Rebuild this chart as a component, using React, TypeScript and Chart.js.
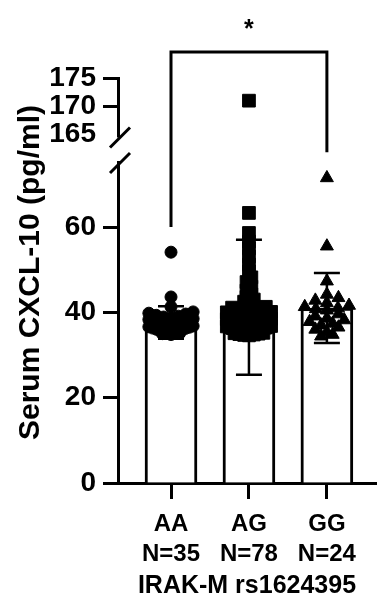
import React, { useEffect, useRef } from 'react';
import { Chart, registerables } from 'chart.js';

Chart.register(...registerables);

const FONT = "'Liberation Sans', Arial, Helvetica, sans-serif";

// ---- data ----
const categories = ['AA', 'AG', 'GG'];
const groupSizes = ['N=35', 'N=78', 'N=24'];
const xTitle = 'IRAK-M rs1624395';
const yTitle = 'Serum CXCL-10 (pg/ml)';
const lowerTicks = [0, 20, 40, 60];
const upperTicks = [165, 170, 175];
const upperTicksWithMark = [170, 175];
const lowerRange = [0, 75];
const upperRange = [160, 175];
const breakValue = 164.5;

const aaValues = [
  54.1, 43.6, 41.3, 40.1, 39.8, 39.6, 39.3, 39.1, 38.9, 38.7, 38.5, 38.3, 38.1, 37.9, 37.8, 37.6, 37.4, 37.3,
  37.1, 36.9, 36.8, 36.6, 36.5, 36.3, 36.2, 36.0, 35.9, 35.8, 35.6, 35.5, 35.4, 35.3, 35.1, 35.0, 34.8,
];
const agValues = [
  171.0, 63.3, 58.6, 56.6, 55.0, 53.1, 51.2, 49.6, 48.2, 47.1, 46.0, 45.1, 44.2, 43.6, 43.0, 42.5, 42.0,
  41.3, 41.1, 40.9, 40.8, 40.6, 40.5, 40.3, 40.2, 40.0, 39.9, 39.7, 39.6, 39.4, 39.3, 39.2, 39.0, 38.9, 38.8,
  38.6, 38.5, 38.4, 38.2, 38.1, 38.0, 37.9, 37.7, 37.6, 37.5, 37.4, 37.2, 37.1, 37.0, 36.9, 36.8, 36.6, 36.5,
  36.4, 36.3, 36.1, 36.0, 35.9, 35.8, 35.7, 35.6, 35.5, 35.4, 35.3, 35.2, 35.1, 35.0, 34.9, 34.8, 34.7, 34.6,
  39.5, 38.3, 37.3, 36.2, 40.1, 37.8, 36.7,
];
const ggValues = [
  71.5, 55.5, 47.3, 44.2, 43.4, 42.8, 42.2, 41.6, 41.3, 41.0, 40.8, 40.5, 39.6, 39.1, 38.6, 38.2, 37.8, 37.4,
  37.0, 36.5, 36.0, 35.4, 34.8, 34.4,
];
const means = [37.6, 41.2, 41.0];
const sds = [3.8, 15.8, 8.2];

const sigLabel = '*';
const bracketLevel = 179.6; // upper-segment units
const bracketLeftEnd = 60; // lower-segment units
const bracketRightEnd = 77.5; // lower-segment units
const starValue = 182.2; // upper-segment units

const groupValues = [aaValues, agValues, ggValues];
const pointStyles = ['circle', 'rect', 'triangle'];
const pointRadii = [6, 9, 7.5];
const swarmSteps = [9, 5, 12];

// ---- beeswarm layout computed from values ----
const Y_PX_PER_UNIT = 4.27;
const X_PX_PER_UNIT = 81;
function swarm(values: number[], center: number, step: number, maxHalf: number, rowH: number): number[] {
  const rows = new Map<number, number[]>();
  values.forEach((v, i) => {
    const r = Math.round((v * Y_PX_PER_UNIT) / rowH);
    if (!rows.has(r)) rows.set(r, []);
    rows.get(r)!.push(i);
  });
  const xs = values.map(() => center);
  rows.forEach((idxs) => {
    const n = idxs.length;
    if (n < 2) return;
    idxs.sort((a, b) => values[a] - values[b]);
    const sp = Math.min(step, (2 * maxHalf) / (n - 1));
    const slots = idxs.map((_, k) => (k - (n - 1) / 2) * sp);
    const order = slots.map((_, k) => k).sort((a, b) => Math.abs(slots[a]) - Math.abs(slots[b]) || a - b);
    idxs.forEach((id, k) => {
      xs[id] = center + slots[order[k]] / X_PX_PER_UNIT;
    });
  });
  return xs;
}

const annotationPlugin = {
  id: 'annotations',
  afterDatasetsDraw(chart: any) {
    const { ctx } = chart;
    const x = chart.scales.x;
    const y = chart.scales.y;
    ctx.save();
    ctx.strokeStyle = '#000';
    ctx.lineWidth = 2.5;
    means.forEach((m, i) => {
      const cx = x.getPixelForValue(i + 1);
      const top = y.getPixelForValue(m + sds[i]);
      const bot = y.getPixelForValue(m - sds[i]);
      ctx.beginPath();
      ctx.moveTo(cx, top);
      ctx.lineTo(cx, bot);
      ctx.moveTo(cx - 13, top);
      ctx.lineTo(cx + 13, top);
      ctx.moveTo(cx - 13, bot);
      ctx.lineTo(cx + 13, bot);
      ctx.stroke();
    });
    ctx.restore();
  },
  afterDraw(chart: any) {
    const { ctx } = chart;
    const x = chart.scales.x;
    const y = chart.scales.y;
    const yt = chart.scales.yTop;
    ctx.save();
    // axis break
    const ax = chart.chartArea.left;
    const yBreak = yt.getPixelForValue(breakValue);
    const yLow = y.getPixelForValue(lowerRange[1]);
    ctx.fillStyle = '#fff';
    ctx.fillRect(ax - 6, yBreak, 12, yLow - yBreak - 2);
    ctx.strokeStyle = '#000';
    ctx.lineWidth = 3;
    [yBreak, yLow].forEach((py) => {
      ctx.beginPath();
      ctx.moveTo(ax - 8, py + 10);
      ctx.lineTo(ax + 12, py - 10);
      ctx.stroke();
    });
    // significance bracket
    const x1 = x.getPixelForValue(1);
    const x3 = x.getPixelForValue(3);
    const yb = yt.getPixelForValue(bracketLevel);
    ctx.lineJoin = 'miter';
    ctx.beginPath();
    ctx.moveTo(x1, y.getPixelForValue(bracketLeftEnd));
    ctx.lineTo(x1, yb);
    ctx.lineTo(x3, yb);
    ctx.lineTo(x3, y.getPixelForValue(bracketRightEnd));
    ctx.stroke();
    ctx.fillStyle = '#000';
    ctx.font = `bold 25px ${FONT}`;
    ctx.textAlign = 'center';
    ctx.textBaseline = 'alphabetic';
    ctx.fillText(sigLabel, (x1 + x3) / 2, yt.getPixelForValue(starValue));
    // y-axis title (spans both axis segments)
    const midY = (yt.getPixelForValue(upperRange[1]) + y.getPixelForValue(lowerRange[0])) / 2 - 8;
    ctx.translate(31, midY);
    ctx.rotate(-Math.PI / 2);
    ctx.font = `bold 30px ${FONT}`;
    ctx.textBaseline = 'middle';
    ctx.fillText(yTitle, 0, 0);
    ctx.restore();
  },
};

export default function App() {
  const canvasRef = useRef<HTMLCanvasElement | null>(null);

  useEffect(() => {
    if (!canvasRef.current) return;

    const scatterSets: any[] = [];
    groupValues.forEach((vals, g) => {
      const xs = swarm(vals, g + 1, swarmSteps[g], 23, 7);
      const low = vals.map((v, i) => ({ x: xs[i], y: v })).filter((p) => p.y <= lowerRange[1]);
      const high = vals.map((v, i) => ({ x: xs[i], y: v })).filter((p) => p.y > lowerRange[1]);
      const common = {
        type: 'scatter',
        pointStyle: pointStyles[g],
        pointRadius: pointRadii[g],
        pointBackgroundColor: '#000',
        pointBorderColor: '#000',
        pointBorderWidth: 1,
        showLine: false,
        order: 1,
        xAxisID: 'x',
      };
      scatterSets.push({ ...common, data: low, yAxisID: 'y' });
      if (high.length) scatterSets.push({ ...common, data: high, yAxisID: 'yTop' });
    });

    const tickFontY = { family: FONT, size: 28, weight: 'bold' as const };

    const chart = new Chart(canvasRef.current, {
      type: 'scatter',
      data: {
        datasets: [
          {
            type: 'bar',
            data: means.map((m, i) => ({ x: i + 1, y: m })),
            backgroundColor: '#fff',
            borderColor: '#000',
            borderWidth: 3,
            barThickness: 52,
            order: 2,
            xAxisID: 'x',
            yAxisID: 'y',
          } as any,
          ...scatterSets,
        ],
      },
      options: {
        animation: false,
        responsive: false,
        devicePixelRatio: 1,
        layout: { padding: { top: 78, left: 0, right: 0, bottom: 0 } },
        plugins: {
          legend: { display: false },
          tooltip: { enabled: false },
          title: { display: false },
        },
        scales: {
          x: {
            type: 'linear',
            min: 0.32,
            max: 3.63,
            offset: false,
            afterBuildTicks: (s: any) => {
              s.ticks = categories.map((_, i) => ({ value: i + 1 }));
            },
            afterFit: (s: any) => {
              s.height = 118;
            },
            ticks: {
              autoSkip: false,
              maxRotation: 0,
              color: '#000',
              padding: 10,
              font: { family: FONT, size: 24, weight: 'bold', lineHeight: 1.25 },
              callback: (v: any) => {
                const i = Math.round(Number(v)) - 1;
                return [categories[i], groupSizes[i]];
              },
            },
            grid: {
              display: true,
              offset: false,
              drawOnChartArea: false,
              drawTicks: true,
              tickLength: 16,
              tickWidth: 3,
              tickColor: '#000',
            },
            border: { display: true, color: '#000', width: 3 },
            title: {
              display: true,
              text: xTitle,
              color: '#000',
              font: { family: FONT, size: 25, weight: 'bold' },
              padding: { top: 0, bottom: 0 },
            },
          },
          y: {
            type: 'linear',
            position: 'left',
            stack: 'left',
            stackWeight: 320,
            min: lowerRange[0],
            max: lowerRange[1],
            afterBuildTicks: (s: any) => {
              s.ticks = lowerTicks.map((v) => ({ value: v }));
            },
            afterFit: (s: any) => {
              s.width = 118;
            },
            ticks: { color: '#000', padding: 7, font: tickFontY, autoSkip: false },
            grid: {
              display: true,
              offset: false,
              drawOnChartArea: false,
              drawTicks: true,
              tickLength: 15,
              tickWidth: 3,
              tickColor: '#000',
            },
            border: { display: true, color: '#000', width: 3 },
          },
          yTop: {
            type: 'linear',
            position: 'left',
            stack: 'left',
            stackWeight: 85,
            min: upperRange[0],
            max: upperRange[1],
            afterBuildTicks: (s: any) => {
              s.ticks = upperTicks.map((v) => ({ value: v }));
            },
            afterFit: (s: any) => {
              s.width = 118;
            },
            ticks: { color: '#000', padding: 7, font: tickFontY, autoSkip: false },
            grid: {
              display: true,
              offset: false,
              drawOnChartArea: false,
              drawTicks: true,
              tickLength: 15,
              tickWidth: 3,
              tickColor: (c: any) =>
                c.tick && upperTicksWithMark.includes(c.tick.value) ? '#000' : 'rgba(0,0,0,0)',
            },
            border: { display: true, color: '#000', width: 3 },
          },
        },
      } as any,
      plugins: [annotationPlugin],
    });

    return () => chart.destroy();
  }, []);

  return (
    <div style={{ position: 'absolute', left: 0, top: 0, width: 386, height: 601, background: '#fff' }}>
      <canvas ref={canvasRef} width={386} height={601} style={{ display: 'block' }} />
    </div>
  );
}
